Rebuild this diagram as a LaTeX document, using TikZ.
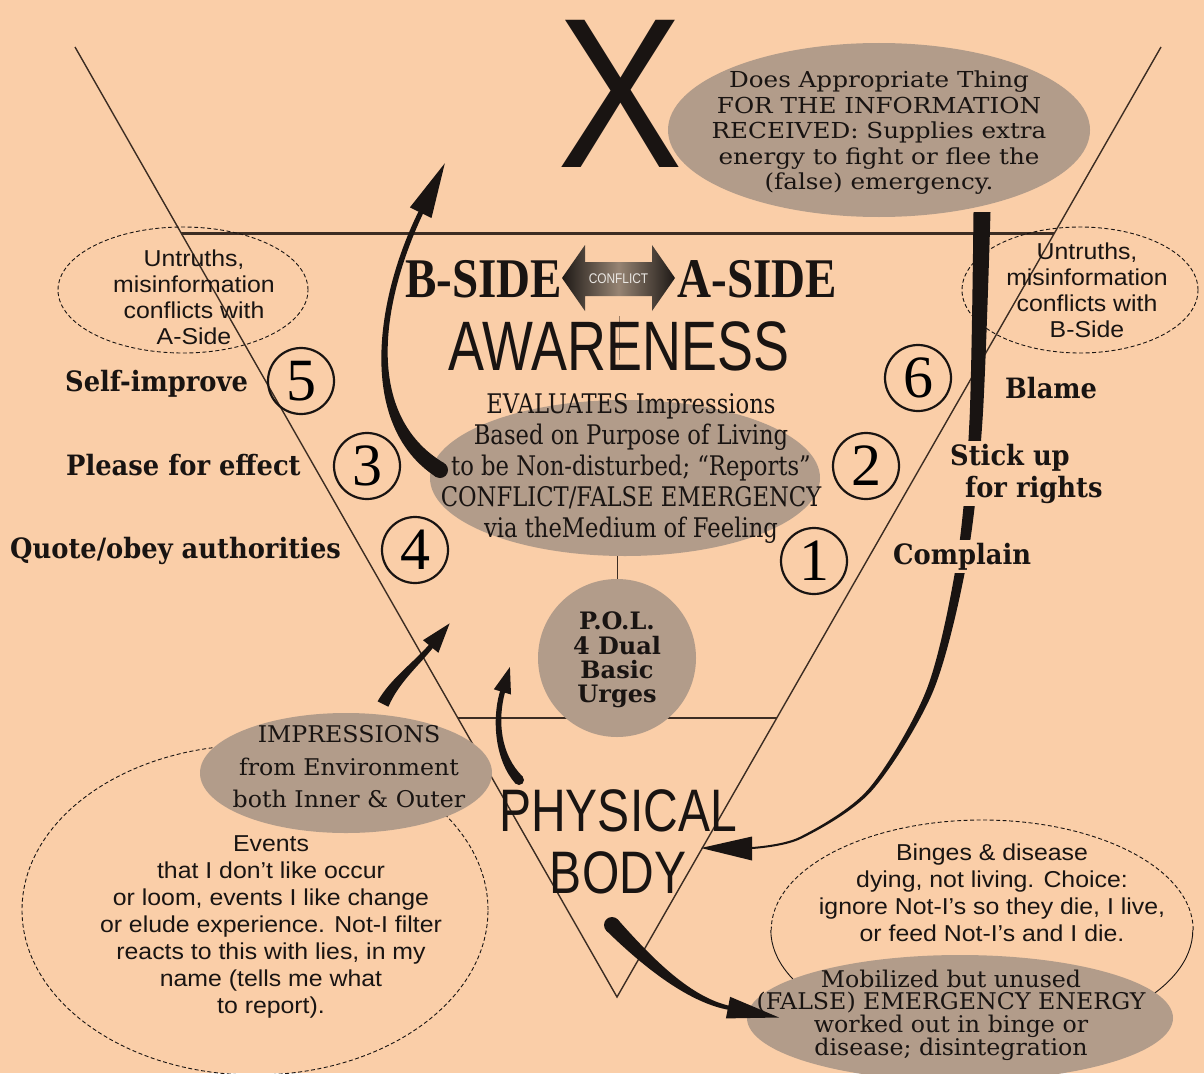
\documentclass[tikz,border=0pt]{standalone}
\usepackage{fontspec}
\usetikzlibrary{shapes.geometric,calc}
\setmainfont{Liberation Serif}
\newfontfamily\fSmall[FakeStretch=1.08]{Liberation Sans}
\newfontfamily\fAw[FakeStretch=0.77]{Liberation Sans}
\newfontfamily\fPh[FakeStretch=0.8]{Liberation Sans}
\newfontfamily\fX[FakeStretch=0.88]{Liberation Sans}
\newfontfamily\fConf[FakeStretch=0.85]{Liberation Sans}
\newfontfamily\fDoes[FakeStretch=1.12]{DejaVu Serif}
\newfontfamily\fImp[FakeStretch=1.03]{DejaVu Serif}
\newfontfamily\fEval[FakeStretch=0.84]{DejaVu Serif}
\newfontfamily\fLab[FakeStretch=0.92]{DejaVu Serif}
\newfontfamily\fPol{DejaVu Serif}
\newfontfamily\fSide[FakeStretch=0.84]{Liberation Serif}
\newfontfamily\fNum{Liberation Serif}
\newcommand\myfs[2]{\fontsize{#1}{#2}\selectfont}
\lineskiplimit=-100pt
\definecolor{bg}{RGB}{250,206,168}
\definecolor{ink}{RGB}{25,20,18}
\definecolor{tri}{RGB}{60,45,35}
\definecolor{shd}{RGB}{178,156,138}
\definecolor{confd}{RGB}{30,25,22}
\definecolor{confm}{RGB}{150,132,115}
\begin{document}
\begin{tikzpicture}[x=1pt,y=-1pt,
  shadeell/.style={ellipse, fill=shd, inner sep=0pt},
  dashell/.style={ellipse, draw=ink, line width=0.9pt, dash pattern=on 4pt off 2.5pt, inner sep=0pt},
  numc/.style={circle, draw=ink, line width=2.2pt, minimum size=66pt, inner sep=0pt, font=\fNum\myfs{60}{60}},
  lab/.style={anchor=base west, inner sep=0pt, font=\fLab\bfseries\myfs{28}{32}},
  knock/.style={fill=bg, inner sep=3pt},
  txt/.style={inner sep=0pt, align=center, text=ink},
  arr/.style={fill=ink},
]
\useasboundingbox (0,0) rectangle (1204,1073);
\fill[bg] (0,0) rectangle (1204,1073);

% triangle
\coordinate (tl) at (75,47);
\coordinate (tr) at (1161,47);
\coordinate (ap) at (617,997);
\coordinate (hl1) at ($(tl)!0.196!(ap)$);
\coordinate (hr1) at ($(tr)!0.196!(ap)$);
\coordinate (hl2) at ($(tl)!0.7063!(ap)$);
\coordinate (hr2) at ($(tr)!0.7063!(ap)$);
\draw[tri, line width=1.4pt] (tl) -- (ap) -- (tr);
\draw[tri, line width=3pt] (hl1) -- (hr1);
\draw[tri, line width=2pt] (hl2) -- (hr2);

% dashed ellipses
\node[dashell, minimum width=250pt, minimum height=126pt] (ua) at (183,290) {};
\node[dashell, minimum width=236pt, minimum height=126pt] (ub) at (1080,290) {};
\node[dashell, minimum width=466pt, minimum height=330pt] (ev) at (255,910) {};
\node[ellipse, minimum width=422pt, minimum height=220pt, inner sep=0pt] (bi) at (982,930) {};
\draw[ink, line width=0.9pt, dash pattern=on 4pt off 2.5pt] (bi.east) arc[start angle=0, end angle=180, x radius=211pt, y radius=110pt];
\draw[ink, line width=0.9pt] (bi.west) arc[start angle=180, end angle=360, x radius=211pt, y radius=110pt];

% shaded ellipses
\node[shadeell, minimum width=422pt, minimum height=174pt] (does) at (879,130) {};
\node[shadeell, minimum width=390pt, minimum height=156pt] (eval) at (625,478) {};
\node[shadeell, minimum width=292pt, minimum height=120pt] (imp) at (346,773) {};
\node[shadeell, minimum width=426pt, minimum height=126pt] (mob) at (960,1018) {};
\node[circle, fill=shd, minimum size=158pt, inner sep=0pt] (pol) at (617,658) {};
\draw[tri, line width=1pt] (pol.north) -- (pol.north |- eval.south);
\coordinate (fv1) at (619,316);
\coordinate (fv2) at (619,360);
\draw[tri!50!bg, line width=1pt] (fv1) -- (fv2);

% conflict double arrow
\shade[left color=confd, right color=confd, middle color=confm] (562,278) -- (585,245) -- (585,262) -- (652,262) -- (652,245) -- (675,278) -- (652,311) -- (652,296) -- (585,296) -- (585,311) -- cycle;
\node[font=\fConf\myfs{14}{14}, text=white!80!confm, inner sep=0pt] (conf) at (618.5,279) {CONFLICT};

% arrow A (left, up)
\fill[arr] (435.8,476.8) .. controls (356.8,425.1) and (374.9,298.5) .. (419.8,208.9) -- (424.2,211.1) .. controls (381.1,301.5) and (363.2,414.9) .. (444.2,463.2) -- cycle;
\fill[arr] (444.8,163.3) -- (409.9,207.4) -- (431.5,218) -- cycle;
\fill[arr] (440,470) circle[radius=8pt];

% arrow B (right, down to body)
\fill[arr] plot[smooth] coordinates {(990.5,212) (982.5,420) (966.9,561) (933.2,691) (871.5,791) (800.5,839) (752,849)}
  -- plot[smooth] coordinates {(752,847) (799.5,837) (868.5,789) (926.8,689) (957.1,559) (969.5,420) (973.5,212)} -- cycle;
\fill[arr] (701,848) -- (752,836.5) -- (752,860.5) -- cycle;

% arrow C (impressions up)
\fill[arr] (377.6,701.3) .. controls (391,678) and (413.9,662.4) .. (430.1,643.4) -- (433.9,646.6) .. controls (418.5,666.2) and (399,682) .. (388.4,706.7) -- cycle;
\fill[arr] (449.6,623.4) -- (423,640.2) -- (438.4,652.8) -- cycle;

% arrow D (body up)
\fill[arr] (515.4,783.5) .. controls (495.1,760.8) and (491.1,719.1) .. (500.6,689.3) -- (505.4,690.7) .. controls (496.9,720.9) and (500.9,755.2) .. (522.6,776.5) -- cycle;
\fill[arr] (509.9,667) -- (493.8,689.3) -- (511,694.5) -- cycle;
\fill[arr] (519,780) circle[radius=5pt];

% arrow E (body down to energy)
\fill[arr] (617.8,919.5) .. controls (654.4,960.9) and (691.4,997.5) .. (730.4,1006) -- (729.6,1010) .. controls (690.2,1003.3) and (645.6,969.1) .. (606.2,930.5) -- cycle;
\fill[arr] (779,1017.5) -- (730.1,996.8) -- (725.9,1018.4) -- cycle;
\fill[arr] (612,925) circle[radius=8pt];

% big texts
\node[font=\fX\myfs{214}{214}, anchor=base, inner sep=0pt, text=ink] (xx) at (620,167) {X};
\node[font=\fAw\myfs{70}{70}, anchor=base, inner sep=0pt, text=ink] (aw) at (619,370) {AWARENESS};
\node[font=\fSide\bfseries\myfs{56}{56}, anchor=base, inner sep=0pt, text=ink] (bs) at (483.5,297) {B-SIDE};
\node[font=\fSide\bfseries\myfs{56}{56}, anchor=base, inner sep=0pt, text=ink] (as) at (757.5,297) {A-SIDE};
\node[txt, font=\fPh\myfs{60}{62}] (body) at (618,842) {PHYSICAL\\BODY};

% ellipse texts
\node[txt, font=\fDoes\myfs{22}{25.5}] (doest) at (879,133) {Does Appropriate Thing\\FOR THE INFORMATION\\RECEIVED: Supplies extra\\energy to fight or flee the\\(false) emergency.};
\node[txt, font=\fEval\myfs{27}{31}] (evalt) at (631,468) {EVALUATES Impressions\\Based on Purpose of Living\\to be Non-disturbed; “Reports”\\CONFLICT/FALSE EMERGENCY\\via theMedium of Feeling};
\node[txt, font=\fImp\myfs{23}{32.5}] (impt) at (349,767) {IMPRESSIONS\\from Environment\\both Inner \& Outer};
\node[txt, font=\fImp\myfs{23}{22.7}] (mobt) at (951,1015) {Mobilized but unused\\(FALSE) EMERGENCY ENERGY\\worked out in binge or\\disease; disintegration};
\node[txt, font=\fPol\bfseries\myfs{24}{24.3}] (polt) at (617,660) {P.O.L.\\4 Dual\\Basic\\Urges};
\node[txt, font=\fSmall\myfs{23}{27}] (evt) at (271,927) {Events\\that I don’t like occur\\or loom, events I like change\\or elude experience. Not-I filter\\reacts to this with lies, in my\\name (tells me what\\to report).};
\node[txt, font=\fSmall\myfs{23}{27}] (bit) at (992,893) {Binges \& disease\\dying, not living. Choice:\\ignore Not-I’s so they die, I live,\\or feed Not-I’s and I die.};
\node[txt, font=\fSmall\myfs{23}{26}] (uat) at (194,297) {Untruths,\\misinformation\\conflicts with\\A-Side};
\node[txt, font=\fSmall\myfs{23}{26}] (ubt) at (1087,290) {Untruths,\\misinformation\\conflicts with\\B-Side};

% side labels
\node[lab, text=ink] (l5) at (65,391) {Self-improve};
\node[lab, text=ink] (l3) at (66,475) {Please for effect};
\node[lab, text=ink] (l4) at (10,558) {Quote/obey authorities};
\node[lab, text=ink] (l6) at (1005,398) {Blame};
\node[lab, knock, text=ink] (st1) at (947,465) {Stick up};
\node[lab, knock, text=ink] (st2) at (962,497) {for rights};
\node[lab, knock, text=ink] (cp) at (890,564) {Complain};

% circled numbers
\node[numc] (n5) at (301,381) {5};
\node[numc] (n3) at (367,466) {3};
\node[numc] (n4) at (415,550) {4};
\node[numc] (n2) at (866,466) {2};
\node[numc] (n1) at (814,561) {1};
\node[numc] (n6) at (918,378) {6};
\end{tikzpicture}
\end{document}
